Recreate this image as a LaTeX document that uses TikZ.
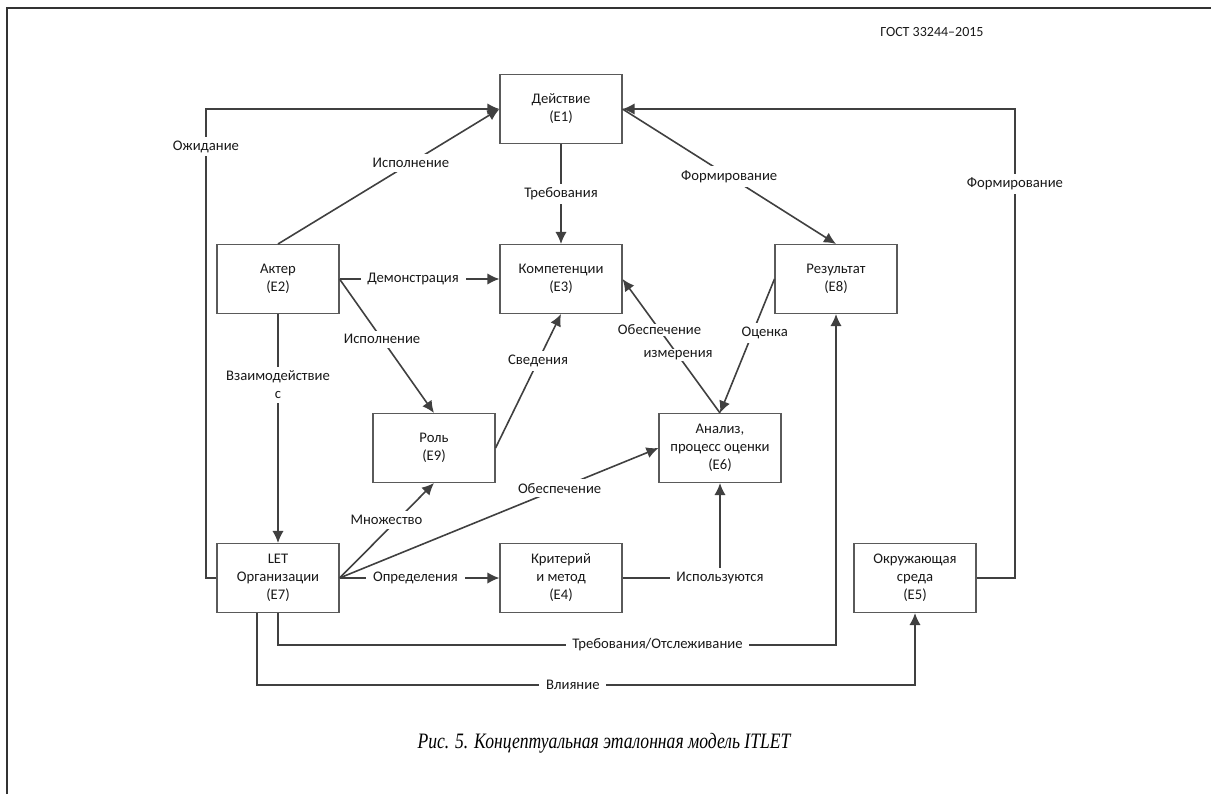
\documentclass[tikz,border=0pt]{standalone}
\usepackage{fontspec}
\setmainfont{Liberation Serif}
\newfontfamily\boxfont{Carlito}
\usetikzlibrary{arrows.meta}
\definecolor{linec}{HTML}{404040}
\definecolor{boxc}{HTML}{5A5A5A}
\tikzset{
  ebox/.style={draw=boxc, line width=0.8pt, fill=white, minimum width=91.5pt, minimum height=51.75pt,
    align=center, font=\boxfont\fontsize{11}{13.5}\selectfont, text=black!90, inner sep=1pt},
  conn/.style={draw=linec, line width=1.2pt, -{Latex[length=9pt,width=8.5pt]}},
  plain/.style={draw=linec, line width=1.2pt},
  lab/.style={fill=white, font=\boxfont\fontsize{11}{13.5}\selectfont, text=black!90, inner xsep=5pt, inner ysep=3pt, align=center}
}
\begin{document}
\begin{tikzpicture}[x=0.75pt,y=-0.75pt]
\useasboundingbox (0,0) rectangle (1211,794);
\draw[line width=1.5pt, black!80] (6.5,794) -- (6.5,8) -- (1211,8);
\node[font=\boxfont\fontsize{10.5}{12}\selectfont, text=black!90] (gost) at (932,32) {ГОСТ 33244–2015};

% boxes
\node[ebox] (E1) at (561,109) {Действие\\(E1)};
\node[ebox] (E2) at (278,279) {Актер\\(E2)};
\node[ebox] (E3) at (561,279) {Компетенции\\(E3)};
\node[ebox] (E8) at (836,279) {Результат\\(E8)};
\node[ebox] (E9) at (434,448) {Роль\\(E9)};
\node[ebox] (E6) at (720,448) {Анализ,\\процесс оценки\\(E6)};
\node[ebox] (E7) at (278,578) {LET\\Организации\\(E7)};
\node[ebox] (E4) at (561,578) {Критерий\\и метод\\(E4)};
\node[ebox] (E5) at (915,578) {Окружающая\\среда\\(E5)};

\coordinate (cwait) at (206,109);
\coordinate (cform) at (1015,109);
\coordinate (ctrack) at (836,645);
\coordinate (cinf) at (915,685);

% connectors
\draw[conn] (E7.west) -| (cwait) node[lab, pos=0.96] {Ожидание} -- (E1.west);
\draw[conn] (E2.north) -- node[lab, pos=0.6] {Исполнение} (E1.west);
\draw[conn] (E1.south) -- node[lab, pos=0.5] {Требования} (E3.north);
\draw[conn] (E1.east) -- node[lab, pos=0.5] {Формирование} (E8.north);
\draw[conn] (E5.east) -| (cform) node[lab, pos=0.92] {Формирование} -- (E1.east);
\draw[conn] (E2.east) -- node[lab, pos=0.46] {Демонстрация} (E3.west);
\draw[conn] (E2.east) -- node[lab, pos=0.45] {Исполнение} (E9.north);
\draw[conn] (E2.south) -- node[lab, pos=0.31] {Взаимодействие\\с} (E7.north);
\draw[conn] (E9.east) -- node[lab, pos=0.65] {Сведения} (E3.south);
\draw[conn] (E6.north) -- node[lab, pos=0.62, inner ysep=1pt] {Обеспечение} node[lab, pos=0.43, inner ysep=1pt] {измерения} (E3.east);
\draw[conn] (E8.west) -- node[lab, pos=0.4, xshift=9pt] {Оценка} (E6.north);
\draw[conn] (E7.east) -- node[lab, pos=0.61, xshift=-8pt] {Множество} (E9.south);
\draw[conn] (E7.east) -- node[lab, pos=0.69] {Обеспечение} (E6.west);
\draw[conn] (E7.east) -- node[lab, pos=0.475] {Определения} (E4.west);
\draw[conn] (E4.east) -| node[lab, pos=0.5] {Используются} (E6.south);
\draw[conn] (E7.south) |- node[lab, pos=0.84] {Требования/Отслеживание} (ctrack) -- (E8.south);
\draw[conn] ([xshift=-15.75pt]E7.south) |- node[lab, pos=0.74] {Влияние} (cinf) -- (E5.south);

\node[font=\fontsize{16.5}{19}\selectfont\itshape] (cap) at (604,743) {\scalebox{0.8}[1]{Рис. 5. Концептуальная эталонная модель ITLET}};
\end{tikzpicture}
\end{document}
